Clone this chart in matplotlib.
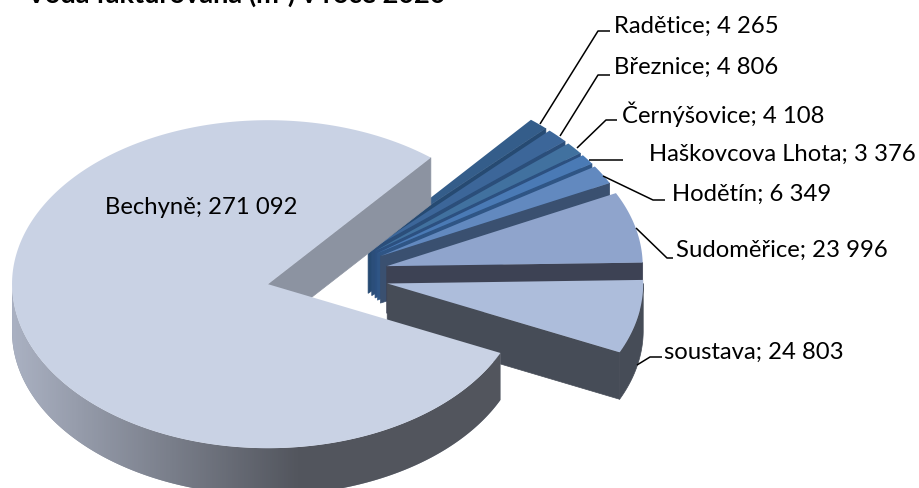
import numpy as np
import matplotlib
matplotlib.use("Agg")
import matplotlib.pyplot as plt
from matplotlib.colors import to_rgb
from matplotlib.patches import Polygon

# data
names = ["Radětice", "Březnice", "Černýšovice", "Haškovcova Lhota", "Hodětín",
         "Sudoměřice", "soustava", "Bechyně"]
values = [4265, 4806, 4108, 3376, 6349, 23996, 24803, 271092]
title = "Voda fakturovaná (m³) v roce 2020"

# styles
top_colors = ["#345d8a", "#3c6699", "#41719f", "#4a7ab5", "#6289bf", "#8fa4cc", "#adbddb", "#c9d2e4"]
wall_colors = ["#264a72", "#2b4e7a", "#2c5080", "#2f5585", "#3a5070", "#3d4254", "#464c57", "#8c93a1"]
label_pos = [(614, 26), (614, 67), (622, 114), (649, 154), (672, 194), (676, 250), (664, 352), (105, 208)]
leaders = [
    [(540, 124), (598, 31), (610, 31)],
    [(560, 136), (598, 75), (610, 75)],
    [(577, 148), (606, 120), (617, 120)],
    [(589, 160), (623, 160)],
    [(603, 176), (653, 200), (665, 200)],
    [(636, 228), (667, 258), (673, 258)],
    [(637, 365), (650, 357), (662, 357)],
]

# pie geometry in pixels
cx, cy = 327.5, 275.5
rx, ry = 256, 164
depth = 47
explode = 61
start_angle = 50.5

plt.rcParams["font.family"] = ["Lato", "DejaVu Sans"]
fig = plt.figure(figsize=(9.2, 4.88), dpi=100)
ax = fig.add_axes([0, 0, 1, 1])
ax.set_xlim(0, 920)
ax.set_ylim(488, 0)
ax.axis("off")


def arc(x0, y0, a1, a2):
    t = np.radians(np.linspace(a1, a2, 300))
    return np.column_stack([x0 + rx * np.cos(t), y0 - ry * np.sin(t)])


total = sum(values)
a = start_angle
for i in range(len(values)):
    # slices go clockwise from the start angle
    a2 = a - values[i] / total * 360
    mid = np.radians((a + a2) / 2)
    x0 = cx + explode * np.cos(mid)
    y0 = cy - explode * ry / rx * np.sin(mid)

    # cut wall at the clockwise end
    tip = arc(x0, y0, a2, a2)[0]
    ax.add_patch(Polygon([(x0, y0), tip, (tip[0], tip[1] + depth), (x0, y0 + depth)],
                         closed=True, fc=wall_colors[i], ec=wall_colors[i], lw=0.5, zorder=i * 3 + 1))

    # rim, only the part facing the viewer
    lo, hi = max(a2, -180), min(a, 0)
    if lo < hi:
        pts = arc(x0, y0, lo, hi)
        rim = Polygon(np.vstack([pts, (pts + [0, depth])[::-1]]), closed=True,
                      fc=wall_colors[i], ec=wall_colors[i], lw=0.5, zorder=i * 3 + 2)
        ax.add_patch(rim)
        if names[i] == "Bechyně":
            # this rim fades from light to dark going right
            rim.set_edgecolor("none")
            xs = np.linspace(0, 920, 460)
            f = np.clip((xs - 12) / (300 - 12), 0, 1)[:, None]
            grad = np.array(to_rgb("#aab1c2")) * (1 - f) + np.array(to_rgb("#52555d")) * f
            im = ax.imshow(grad[None, :, :], extent=(0, 920, 488, 0), aspect="auto", zorder=i * 3 + 2)
            im.set_clip_path(rim)

    # top face
    ax.add_patch(Polygon(np.vstack([[x0, y0], arc(x0, y0, a2, a)]), closed=True,
                         fc=top_colors[i], ec="none", zorder=i * 3 + 3))
    a = a2

for pts in leaders:
    ax.plot([p[0] for p in pts], [p[1] for p in pts], color="black", lw=1.1, zorder=40,
            solid_capstyle="butt", solid_joinstyle="round")

for name, val, pos in zip(names, values, label_pos):
    text = name + "; " + format(val, ",").replace(",", " ")
    ax.text(pos[0], pos[1], text, fontsize=17.2, va="center", ha="left", color="black", zorder=50)

ax.text(26, 3, title, fontsize=19.5, fontweight="bold", va="baseline", ha="left", color="black", zorder=50)

fig.savefig("out.png", dpi=100)
